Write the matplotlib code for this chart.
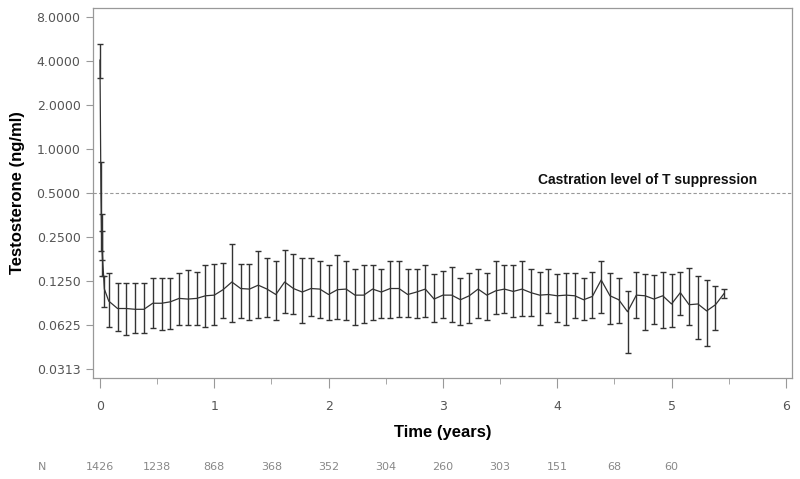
import matplotlib
matplotlib.use("Agg")
import matplotlib.pyplot as plt
import numpy as np
from matplotlib.ticker import FixedLocator, MultipleLocator, NullFormatter

# visit schedule (weeks from start of treatment)
visit_weeks = [0, 0.43, 0.71, 1, 2,
               4, 8, 12, 16, 20, 24, 28, 32, 36, 40, 44, 48, 52,
               56, 60, 64, 68, 72, 76, 80, 84, 88, 92, 96, 100, 104,
               108, 112, 116, 120, 124, 128, 132, 136, 140, 144, 148, 152,
               156, 160, 164, 168, 172, 176, 180, 184, 188, 192, 196, 200, 204,
               208, 212, 216, 220, 224, 228, 232, 236, 240, 244, 248, 252,
               256, 260, 264, 268, 272, 276, 280, 284]

# mean testosterone (ng/ml) and lower / upper ends of the bars
t_mean = [4.06, 0.52, 0.27, 0.20, 0.110,
          0.091, 0.081, 0.081, 0.080, 0.080, 0.088, 0.088, 0.090, 0.095, 0.094, 0.095, 0.099, 0.100,
          0.109, 0.123, 0.111, 0.110, 0.117, 0.110, 0.101, 0.123, 0.111, 0.105, 0.111, 0.110, 0.101,
          0.109, 0.110, 0.100, 0.100, 0.110, 0.105, 0.111, 0.111, 0.101, 0.105, 0.110, 0.094,
          0.100, 0.100, 0.093, 0.099, 0.110, 0.100, 0.107, 0.110, 0.106, 0.110, 0.104, 0.100, 0.101,
          0.099, 0.100, 0.099, 0.093, 0.098, 0.127, 0.099, 0.093, 0.077, 0.100, 0.099, 0.094,
          0.099, 0.087, 0.104, 0.086, 0.087, 0.078, 0.086, 0.103]
t_hi = [5.20, 0.81, 0.36, 0.276, 0.136,
        0.141, 0.121, 0.121, 0.121, 0.121, 0.130, 0.130, 0.130, 0.141, 0.149, 0.143, 0.161, 0.163,
        0.167, 0.223, 0.163, 0.163, 0.200, 0.180, 0.170, 0.204, 0.191, 0.180, 0.180, 0.170, 0.161,
        0.188, 0.170, 0.150, 0.161, 0.161, 0.150, 0.170, 0.170, 0.150, 0.150, 0.161, 0.139,
        0.147, 0.155, 0.130, 0.141, 0.150, 0.141, 0.172, 0.161, 0.161, 0.170, 0.150, 0.143, 0.150,
        0.140, 0.141, 0.141, 0.130, 0.143, 0.172, 0.141, 0.132, 0.106, 0.145, 0.139, 0.138,
        0.145, 0.139, 0.145, 0.154, 0.135, 0.126, 0.116, 0.111]
t_lo = [3.05, 0.20, 0.174, 0.136, 0.083,
        0.061, 0.057, 0.053, 0.055, 0.055, 0.060, 0.058, 0.059, 0.0625, 0.0625, 0.0625, 0.061, 0.0625,
        0.070, 0.065, 0.070, 0.068, 0.070, 0.071, 0.068, 0.075, 0.074, 0.064, 0.072, 0.070, 0.068,
        0.069, 0.068, 0.062, 0.064, 0.068, 0.070, 0.070, 0.071, 0.071, 0.070, 0.071, 0.065,
        0.070, 0.066, 0.062, 0.064, 0.070, 0.068, 0.074, 0.075, 0.071, 0.072, 0.072, 0.0625, 0.076,
        0.065, 0.0625, 0.070, 0.068, 0.070, 0.075, 0.063, 0.064, 0.040, 0.070, 0.058, 0.063,
        0.060, 0.061, 0.073, 0.0625, 0.050, 0.045, 0.058, 0.096]

y_ticks = [0.03125, 0.0625, 0.125, 0.25, 0.5, 1, 2, 4, 8]
y_tick_labels = ['0.0313', '0.0625', '0.1250', '0.2500', '0.5000',
                 '1.0000', '2.0000', '4.0000', '8.0000']

n_times = [0, 0.5, 1, 1.5, 2, 2.5, 3, 3.5, 4, 4.5, 5]
n_at_risk = [1426, 1238, 868, 368, 352, 304, 260, 303, 151, 68, 60]

castration_level = 0.5

t_years = np.array(visit_weeks) / 52.0
mean = np.array(t_mean)
err = [mean - np.array(t_lo), np.array(t_hi) - mean]

fig = plt.figure(figsize=(8, 4.79), dpi=100)
ax = fig.add_axes([0.11625, 0.2109, 0.87375, 0.7724])

ax.axhline(castration_level, color='#999999', lw=0.8, ls=(0, (3, 2)))
ax.errorbar(t_years, mean, yerr=err, color='#333333', lw=0.9,
            elinewidth=1.0, capsize=2.5, capthick=1.0)

ax.set_yscale('log', base=2)
ax.set_ylim(2 ** -5.205, 2 ** 3.205)
ax.set_xlim(-0.061, 6.054)

ax.yaxis.set_major_locator(FixedLocator(y_ticks))
ax.set_yticklabels(y_tick_labels)
ax.yaxis.set_minor_locator(FixedLocator([]))
ax.yaxis.set_minor_formatter(NullFormatter())
ax.xaxis.set_major_locator(MultipleLocator(1))
ax.xaxis.set_minor_locator(MultipleLocator(0.5))

for sp in ax.spines.values():
    sp.set_color('#999999')
    sp.set_linewidth(0.9)

ax.tick_params(axis='both', which='both', color='#999999', labelcolor='#555555',
               labelsize=9, direction='out')
ax.tick_params(axis='y', which='major', length=5, pad=4)
ax.tick_params(axis='x', which='major', length=7, pad=8.5)
ax.tick_params(axis='x', which='minor', length=4)

ax.set_xlabel('Time (years)', fontsize=12, fontweight='bold',
              family='Liberation Sans', labelpad=9)
ax.set_ylabel('Testosterone (ng/ml)', fontsize=12, fontweight='bold',
              family='Liberation Sans', labelpad=8)

ax.text(5.75, castration_level * 1.1, 'Castration level of T suppression',
        ha='right', va='bottom', fontsize=10, fontweight='bold',
        family='Liberation Sans', color='#111111')

# numbers at risk under the axis
n_row_y = 0.025
fig.text(0.0525, n_row_y, 'N', fontsize=8, color='#888888', ha='center', va='center')
for tx, n in zip(n_times, n_at_risk):
    ax.annotate(str(n), xy=(tx, n_row_y), xycoords=('data', 'figure fraction'),
                ha='center', va='center', fontsize=8, color='#888888')

fig.savefig('out.png', dpi=100)
